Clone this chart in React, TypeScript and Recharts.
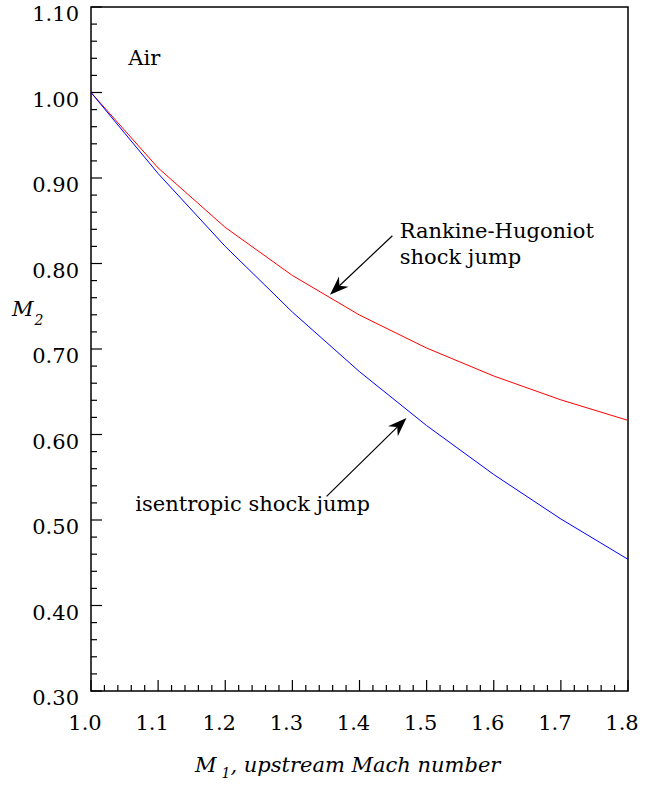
import React from "react";
import { LineChart, Line, XAxis, YAxis, ReferenceArea, ReferenceLine, ReferenceDot } from "recharts";

// upstream Mach number M1 and downstream M2 for air
const machUp = [1.0, 1.1, 1.2, 1.3, 1.4, 1.5, 1.6, 1.7, 1.8];
const rankineHugoniot = [1.0, 0.9118, 0.8422, 0.786, 0.7397, 0.7011, 0.6684, 0.6405, 0.6165];
const isentropic = [1.0, 0.9052, 0.82, 0.7432, 0.6735, 0.6104, 0.5532, 0.5012, 0.454];

// minor ticks every 0.02, labels on the tenths
const xTicks = Array.from({ length: 41 }, (_, i) => +(1 + i * 0.02).toFixed(2));
const yTicks = Array.from({ length: 41 }, (_, i) => +(0.3 + i * 0.02).toFixed(2));

// only serif face that resolves in the sandbox
const FONT = "DejaVu Serif";
const SIZE = 21;

const data = machUp.map((m, i) => ({ m, rh: rankineHugoniot[i], ise: isentropic[i] }));

const isMajor = (v: number) => Math.abs(v * 10 - Math.round(v * 10)) < 1e-6;

function XTick({ x, y, payload }: any) {
  const v = payload.value;
  const major = isMajor(v);
  return (
    <g>
      <line x1={x} x2={x} y1={y} y2={y - (major ? 11 : 6)} stroke="#000" strokeWidth={1.2} />
      {major && (
        <text x={x - 6} y={y + 39} textAnchor="middle" fontFamily={FONT} fontSize={SIZE} fill="#000">
          {v.toFixed(1)}
        </text>
      )}
    </g>
  );
}

function YTick({ x, y, payload }: any) {
  const v = payload.value;
  const major = isMajor(v);
  return (
    <g>
      <line x1={x} x2={x + (major ? 11 : 6)} y1={y} y2={y} stroke="#000" strokeWidth={1.2} />
      {major && (
        <text x={x - 12} y={y + 14} textAnchor="end" fontFamily={FONT} fontSize={SIZE} fill="#000">
          {v.toFixed(2)}
        </text>
      )}
    </g>
  );
}

function Arrow(props: any) {
  const { x1, y1, x2, y2 } = props;
  const len = Math.hypot(x2 - x1, y2 - y1);
  const dx = (x2 - x1) / len;
  const dy = (y2 - y1) / len;
  const nx = -dy;
  const ny = dx;
  const L = 19;
  const W = 7;
  const bx = x2 - dx * L;
  const by = y2 - dy * L;
  const kx = x2 - dx * 13;
  const ky = y2 - dy * 13;
  return (
    <g>
      <line x1={x1} y1={y1} x2={kx} y2={ky} stroke="#000" strokeWidth={1.2} />
      <polygon
        points={`${x2},${y2} ${bx + nx * W},${by + ny * W} ${kx},${ky} ${bx - nx * W},${by - ny * W}`}
        fill="#000"
      />
    </g>
  );
}

const label = (lines: string[]) => (p: any) => (
  <text x={p.cx} y={p.cy} fontFamily={FONT} fontSize={SIZE} fill="#000">
    {lines.map((t, i) => (
      <tspan key={i} x={p.cx} dy={i === 0 ? 0 : 26}>
        {t}
      </tspan>
    ))}
  </text>
);

export default function App() {
  return (
    <div style={{ position: "absolute", left: 0, top: 0, width: 653, height: 794, background: "#fff" }}>
      <LineChart width={653} height={794} data={data} margin={{ top: 7, right: 25, left: 0, bottom: 0 }}>
        <XAxis
          dataKey="m"
          type="number"
          domain={[1, 1.8]}
          ticks={xTicks}
          interval={0}
          tickSize={0}
          tickMargin={0}
          axisLine={false}
          tickLine={false}
          tick={<XTick />}
          height={103}
          label={{
            content: ({ viewBox }: any) => (
              <text x={195} y={viewBox.y + 81} fontFamily={FONT} fontSize={SIZE} fontStyle="italic" fill="#000">
                <tspan>M</tspan>
                <tspan dx={5} dy={6} fontSize={14}>1</tspan>
                <tspan dy={-6}>, upstream Mach number</tspan>
              </text>
            ),
          }}
        />
        <YAxis
          type="number"
          domain={[0.3, 1.1]}
          ticks={yTicks}
          interval={0}
          tickSize={0}
          tickMargin={0}
          axisLine={false}
          tickLine={false}
          tick={<YTick />}
          width={91}
          label={{
            content: ({ viewBox }: any) => (
              <text x={viewBox.x + 12} y={316} fontFamily={FONT} fontSize={SIZE} fontStyle="italic" fill="#000">
                <tspan>M</tspan>
                <tspan dx={1} dy={9} fontSize={14}>2</tspan>
              </text>
            ),
          }}
        />
        <ReferenceArea x1={1} x2={1.8} y1={0.3} y2={1.1} fill="none" stroke="#000" strokeWidth={1.5} />
        <Line type="linear" dataKey="rh" stroke="#ff0000" strokeWidth={1} dot={false} isAnimationActive={false} />
        <Line type="linear" dataKey="ise" stroke="#0000ff" strokeWidth={1} dot={false} isAnimationActive={false} />
        <ReferenceLine segment={[{ x: 1.449, y: 0.8325 }, { x: 1.356, y: 0.7635 }]} shape={<Arrow />} />
        <ReferenceLine segment={[{ x: 1.351, y: 0.5276 }, { x: 1.47, y: 0.6193 }]} shape={<Arrow />} />
        <ReferenceDot x={1.0555} y={1.0325} r={0} shape={label(["Air"])} />
        <ReferenceDot x={1.46} y={0.83} r={0} shape={label(["Rankine-Hugoniot", "shock jump"])} />
        <ReferenceDot x={1.066} y={0.511} r={0} shape={label(["isentropic shock jump"])} />
      </LineChart>
    </div>
  );
}
